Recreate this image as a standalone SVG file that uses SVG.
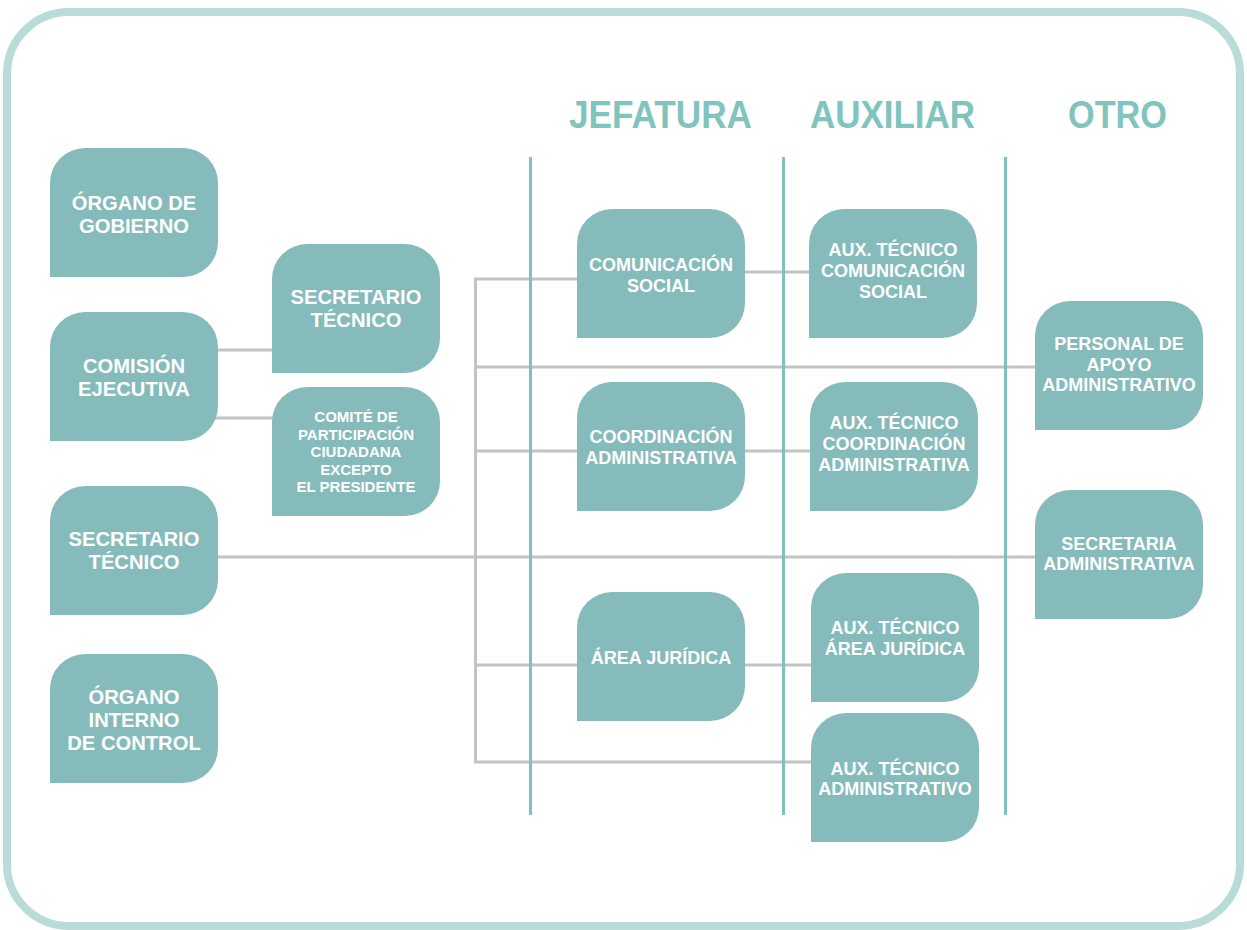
<svg xmlns="http://www.w3.org/2000/svg" xmlns:xlink="http://www.w3.org/1999/xlink" width="1247" height="930" viewBox="0 0 1247 930">
<style>
.frame{fill:#ffffff;stroke:#badcd8;stroke-width:8}
.box{fill:#85bbbb}
.col{stroke:#7fc1bb;stroke-width:3;fill:none}
.conn{stroke:#c3c3c3;stroke-width:3;fill:none;stroke-linejoin:miter;stroke-linecap:square}
.hdr{font-family:"Liberation Sans",Arial,sans-serif;font-weight:bold;fill:#80c4be;text-anchor:middle;font-size:38px}
.t{font-family:"Liberation Sans",Arial,sans-serif;font-weight:bold;fill:#ffffff;text-anchor:middle}
.big{font-size:20.2px}
.mid{font-size:18px}
.sm{font-size:15px}
</style>
<defs>
<path id="box" class="box" d="M0 129 V35 A35 35 0 0 1 35 0 H133 A35 35 0 0 1 168 35 V94 A35 35 0 0 1 133 129 Z"/>
</defs>
<rect class="frame" x="7" y="12" width="1233" height="914" rx="62" ry="62"/>

<g id="headers">
<text class="hdr" x="660.5" y="128" textLength="183" lengthAdjust="spacingAndGlyphs">JEFATURA</text>
<text class="hdr" x="892.5" y="128" textLength="165" lengthAdjust="spacingAndGlyphs">AUXILIAR</text>
<text class="hdr" x="1117.5" y="128" textLength="99" lengthAdjust="spacingAndGlyphs">OTRO</text>
</g>

<g id="connectors">
<path class="conn" d="M210 350 H280"/>
<path class="conn" d="M205 418 H280"/>
<path class="conn" d="M210 557 H1045"/>
<path class="conn" d="M585 279 H475.5 V762 H820"/>
<path class="conn" d="M475.5 367 H1045"/>
<path class="conn" d="M475.5 451 H585"/>
<path class="conn" d="M735 451 H820"/>
<path class="conn" d="M475.5 665 H585"/>
<path class="conn" d="M735 665 H820"/>
<path class="conn" d="M735 272 H818"/>
</g>

<g id="columns">
<path class="col" d="M530.5 157 V815"/>
<path class="col" d="M783.5 157 V815"/>
<path class="col" d="M1005.5 157 V815"/>
</g>

<g id="n-organo-gobierno">
<use xlink:href="#box" x="50" y="148"/>
<text class="t big" x="134" y="210">ÓRGANO DE</text>
<text class="t big" x="134" y="233">GOBIERNO</text>
</g>
<g id="n-comision-ejecutiva">
<use xlink:href="#box" x="50" y="312"/>
<text class="t big" x="134" y="373">COMISIÓN</text>
<text class="t big" x="134" y="396">EJECUTIVA</text>
</g>
<g id="n-secretario-tecnico-1">
<use xlink:href="#box" x="50" y="486"/>
<text class="t big" x="134" y="546">SECRETARIO</text>
<text class="t big" x="134" y="569">TÉCNICO</text>
</g>
<g id="n-organo-interno">
<use xlink:href="#box" x="50" y="654"/>
<text class="t big" x="134" y="704">ÓRGANO</text>
<text class="t big" x="134" y="727">INTERNO</text>
<text class="t big" x="134" y="750">DE CONTROL</text>
</g>
<g id="n-secretario-tecnico-2">
<use xlink:href="#box" x="272" y="244"/>
<text class="t big" x="356" y="304">SECRETARIO</text>
<text class="t big" x="356" y="327">TÉCNICO</text>
</g>
<g id="n-comite">
<use xlink:href="#box" x="272" y="387"/>
<text class="t sm" x="356" y="422">COMITÉ DE</text>
<text class="t sm" x="356" y="440">PARTICIPACIÓN</text>
<text class="t sm" x="356" y="457">CIUDADANA</text>
<text class="t sm" x="356" y="475">EXCEPTO</text>
<text class="t sm" x="356" y="492">EL PRESIDENTE</text>
</g>
<g id="n-comunicacion">
<use xlink:href="#box" x="577" y="209"/>
<text class="t mid" x="661" y="271">COMUNICACIÓN</text>
<text class="t mid" x="661" y="292">SOCIAL</text>
</g>
<g id="n-coordinacion">
<use xlink:href="#box" x="577" y="382"/>
<text class="t mid" x="661" y="443">COORDINACIÓN</text>
<text class="t mid" x="661" y="464">ADMINISTRATIVA</text>
</g>
<g id="n-area-juridica">
<use xlink:href="#box" x="577" y="592"/>
<text class="t mid" x="661" y="664">ÁREA JURÍDICA</text>
</g>
<g id="n-aux-comunicacion">
<use xlink:href="#box" x="809" y="209"/>
<text class="t mid" x="893" y="256">AUX. TÉCNICO</text>
<text class="t mid" x="893" y="277">COMUNICACIÓN</text>
<text class="t mid" x="893" y="298">SOCIAL</text>
</g>
<g id="n-aux-coordinacion">
<use xlink:href="#box" x="810" y="382"/>
<text class="t mid" x="894" y="429">AUX. TÉCNICO</text>
<text class="t mid" x="894" y="450">COORDINACIÓN</text>
<text class="t mid" x="894" y="471">ADMINISTRATIVA</text>
</g>
<g id="n-aux-area-juridica">
<use xlink:href="#box" x="811" y="573"/>
<text class="t mid" x="895" y="634">AUX. TÉCNICO</text>
<text class="t mid" x="895" y="655">ÁREA JURÍDICA</text>
</g>
<g id="n-aux-administrativo">
<use xlink:href="#box" x="811" y="713"/>
<text class="t mid" x="895" y="775">AUX. TÉCNICO</text>
<text class="t mid" x="895" y="795">ADMINISTRATIVO</text>
</g>
<g id="n-personal-apoyo">
<use xlink:href="#box" x="1035" y="301"/>
<text class="t mid" x="1119" y="350">PERSONAL DE</text>
<text class="t mid" x="1119" y="371">APOYO</text>
<text class="t mid" x="1119" y="391">ADMINISTRATIVO</text>
</g>
<g id="n-secretaria-administrativa">
<use xlink:href="#box" x="1035" y="490"/>
<text class="t mid" x="1119" y="550">SECRETARIA</text>
<text class="t mid" x="1119" y="570">ADMINISTRATIVA</text>
</g>
</svg>
